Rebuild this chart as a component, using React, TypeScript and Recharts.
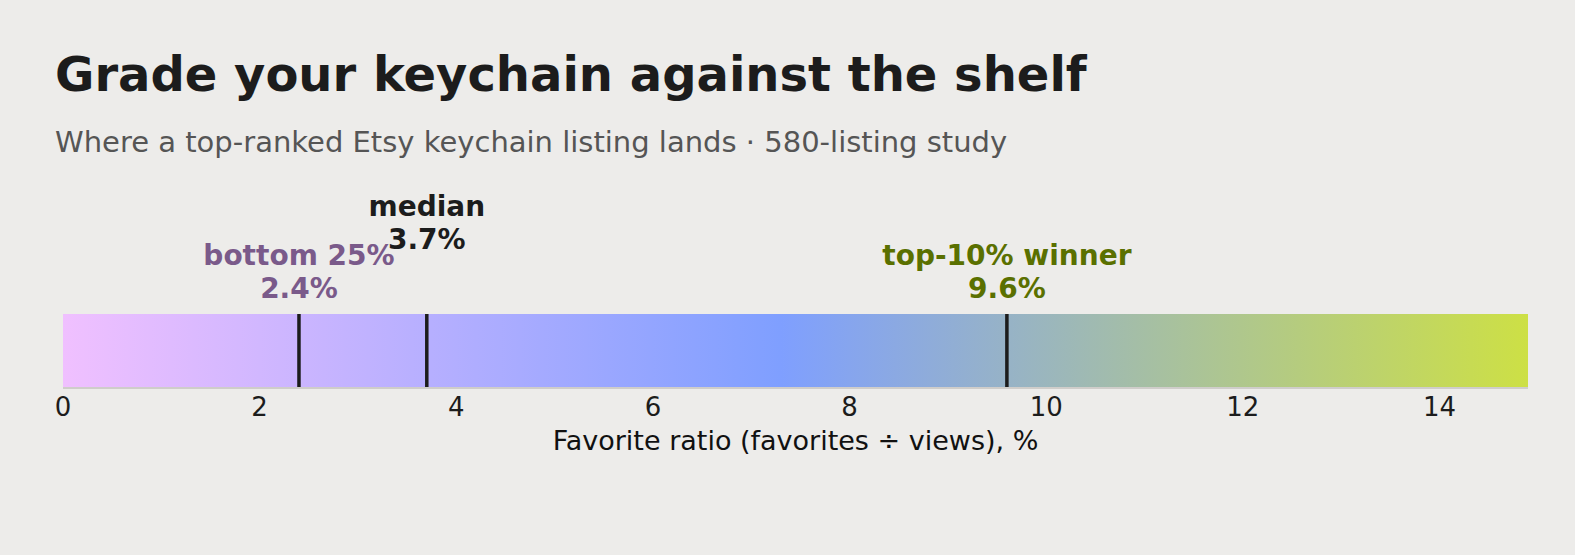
import React from 'react';
import { BarChart, Bar, XAxis, YAxis, ReferenceLine } from 'recharts';

const scaleMax = 14.9;
const ticks = [0, 2, 4, 6, 8, 10, 12, 14];
const bands = [{ name: 'ratio', value: scaleMax }];

const markerNames = ['bottom 25%', 'median', 'top-10% winner'];
const markerValues = [2.4, 3.7, 9.6];
const markerColors = ['#7a5a8a', '#1c1c1c', '#5a7000'];
const markerRaise = [0, 49, 0];

const font = '"DejaVu Sans", sans-serif';

const MarkerLabel = (props: any) => {
  const { viewBox, name, value, color, raise } = props;
  const x = viewBox.x;
  const y = viewBox.y - 16 - raise;
  return (
    <text x={x} textAnchor="middle" fontFamily={font} fontSize={28} fontWeight="bold" fill={color}>
      <tspan x={x} y={y - 33}>{name}</tspan>
      <tspan x={x} y={y}>{value}%</tspan>
    </text>
  );
};

const App = () => {
  return (
    <div style={{ position: 'relative', width: 1575, height: 555, background: '#edecea', fontFamily: font }}>
      <style>{'body{margin:0}'}</style>
      <div style={{ position: 'absolute', left: 55, top: 46, fontSize: 48, fontWeight: 'bold', color: '#1c1c1c', whiteSpace: 'nowrap' }}>
        Grade your keychain against the shelf
      </div>
      <div style={{ position: 'absolute', left: 55, top: 125, fontSize: 29, color: '#555555', whiteSpace: 'nowrap' }}>
        Where a top-ranked Etsy keychain listing lands · 580-listing study
      </div>
      <BarChart
        width={1575}
        height={555}
        data={bands}
        layout="vertical"
        barCategoryGap={0}
        margin={{ top: 314, right: 47, bottom: 97, left: 63 }}
        style={{ position: 'absolute', left: 0, top: 0 }}
      >
        <defs>
          <linearGradient id="scale" x1="0" y1="0" x2="1" y2="0">
            <stop offset="0" stopColor="#f0c0ff" />
            <stop offset="0.49" stopColor="#7f9fff" />
            <stop offset="1" stopColor="#cde045" />
          </linearGradient>
        </defs>
        <XAxis
          type="number"
          dataKey="value"
          domain={[0, scaleMax]}
          ticks={ticks}
          tickLine={false}
          axisLine={{ stroke: '#cfcdca', strokeWidth: 2 }}
          tick={{ fill: '#1c1c1c', fontSize: 26, fontFamily: font }}
          tickMargin={4}
          height={70}
          label={{ value: 'Favorite ratio (favorites ÷ views), %', position: 'insideBottom', offset: 8, fill: '#111', fontSize: 27, fontFamily: font }}
        />
        <YAxis type="category" dataKey="name" hide />
        <Bar dataKey="value" fill="url(#scale)" isAnimationActive={false} />
        {markerValues.map((v, i) => (
          <ReferenceLine
            key={markerNames[i]}
            x={v}
            stroke="#1c1c1c"
            strokeWidth={3.5}
            ifOverflow="visible"
            label={<MarkerLabel name={markerNames[i]} value={v} color={markerColors[i]} raise={markerRaise[i]} />}
          />
        ))}
      </BarChart>
    </div>
  );
};

export default App;
